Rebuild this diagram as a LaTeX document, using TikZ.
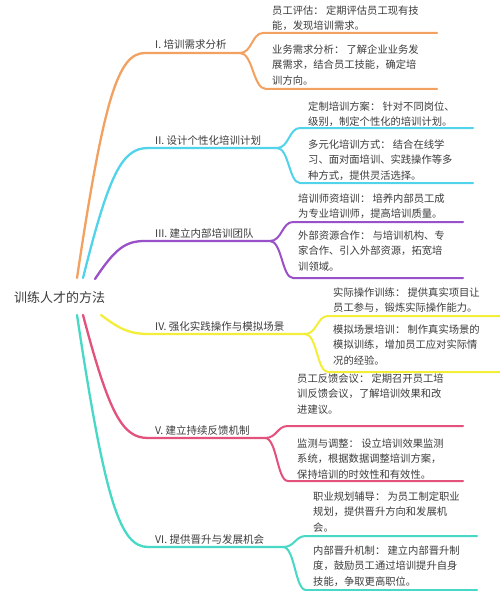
\documentclass[tikz,border=0pt]{standalone}
\usepackage{fontspec}
\setmainfont{Noto Sans CJK SC}
\definecolor{cI}{HTML}{F2A160}
\definecolor{cII}{HTML}{52D3EC}
\definecolor{cIII}{HTML}{9A50C8}
\definecolor{cIV}{HTML}{F3EE3A}
\definecolor{cV}{HTML}{E2527C}
\definecolor{cVI}{HTML}{48D8C6}
\definecolor{txt}{HTML}{3C3C3C}
\tikzset{
  branch/.style={line width=2.3pt, line cap=round},
  twig/.style={line width=2pt, line cap=round},
  lab/.style={anchor=base west, inner sep=0pt, font=\fontsize{10.5}{12}\selectfont, text=txt},
  leaf/.style={anchor=north west, inner sep=0pt, align=left, font=\fontsize{10.3}{15.7}\selectfont, text=txt, yshift=1.8pt},
  rootlab/.style={anchor=base west, inner sep=0pt, font=\fontsize{13}{15}\selectfont, text=txt},
}
\begin{document}
\begin{tikzpicture}[x=1pt,y=-1pt]
\useasboundingbox (0,0) rectangle (500,591);
\fill[white] (0,0) rectangle (500,591);

\node[rootlab] (root) at (14,302) {训练人才的方法};

% ---------- I ----------
\coordinate (rI) at (77,278);
\coordinate (hI) at (145,53);
\coordinate (jI) at (240,53);
\coordinate (aI) at (263,33);  \coordinate (aIe) at (437,33);
\coordinate (bI) at (266,89);  \coordinate (bIe) at (437,89);
\draw[branch,cI] (rI) .. controls (104,98) and (118,53) .. (hI) -- (jI);
\draw[twig,cI] (jI) .. controls (252,53) and (252,33) .. (aI) -- (aIe);
\draw[twig,cI] (jI) .. controls (253,53) and (253,89) .. (bI) -- (bIe);
\node[lab] (lI) at (155,49) {I. 培训需求分析};
\node[leaf] (tI1) at (272,7) {员工评估： 定期评估员工现有技\\能，发现培训需求。};
\node[leaf] (tI2) at (272,46) {业务需求分析： 了解企业业务发\\展需求，结合员工技能，确定培\\训方向。};

% ---------- II ----------
\coordinate (rII) at (83,278);
\coordinate (hII) at (148,148);
\coordinate (jII) at (277,148);
\coordinate (aII) at (300,128);  \coordinate (aIIe) at (473,128);
\coordinate (bII) at (300,183);  \coordinate (bIIe) at (473,183);
\draw[branch,cII] (rII) .. controls (109,174) and (122,148) .. (hII) -- (jII);
\draw[twig,cII] (jII) .. controls (289,148) and (289,128) .. (aII) -- (aIIe);
\draw[twig,cII] (jII) .. controls (289,148) and (289,183) .. (bII) -- (bIIe);
\node[lab] (lII) at (155,144) {II. 设计个性化培训计划};
\node[leaf] (tII1) at (308,103) {定制培训方案： 针对不同岗位、\\级别，制定个性化的培训计划。};
\node[leaf] (tII2) at (308,141) {多元化培训方式： 结合在线学\\习、面对面培训、实践操作等多\\种方式，提供灵活选择。};

% ---------- III ----------
\coordinate (rIII) at (95,279);
\coordinate (hIII) at (145,241);
\coordinate (jIII) at (270,241);
\coordinate (aIII) at (293,222);  \coordinate (aIIIe) at (463,222);
\coordinate (bIII) at (293,278);  \coordinate (bIIIe) at (463,278);
\draw[branch,cIII] (rIII) .. controls (115,249) and (125,241) .. (hIII) -- (jIII);
\draw[twig,cIII] (jIII) .. controls (282,241) and (282,222) .. (aIII) -- (aIIIe);
\draw[twig,cIII] (jIII) .. controls (282,241) and (282,278) .. (bIII) -- (bIIIe);
\node[lab] (lIII) at (155,237) {III. 建立内部培训团队};
\node[leaf] (tIII1) at (298,195) {培训师资培训： 培养内部员工成\\为专业培训师，提高培训质量。};
\node[leaf] (tIII2) at (298,232) {外部资源合作： 与培训机构、专\\家合作、引入外部资源，拓宽培\\训领域。};

% ---------- IV ----------
\coordinate (rIV) at (101,315);
\coordinate (hIV) at (150,334);
\coordinate (jIV) at (305,334);
\coordinate (aIV) at (328,316);  \coordinate (aIVe) at (500,316);
\coordinate (bIV) at (328,372);  \coordinate (bIVe) at (500,372);
\draw[branch,cIV] (rIV) .. controls (121,330) and (130,334) .. (hIV) -- (jIV);
\draw[twig,cIV] (jIV) .. controls (317,334) and (317,316) .. (aIV) -- (aIVe);
\draw[twig,cIV] (jIV) .. controls (317,334) and (317,372) .. (bIV) -- (bIVe);
\node[lab] (lIV) at (155,330) {IV. 强化实践操作与模拟场景};
\node[leaf] (tIV1) at (333,289) {实际操作训练： 提供真实项目让\\员工参与，锻炼实际操作能力。};
\node[leaf] (tIV2) at (333,326) {模拟场景培训： 制作真实场景的\\模拟训练，增加员工应对实际情\\况的经验。};

% ---------- V ----------
\coordinate (rV) at (83,315);
\coordinate (hV) at (148,438);
\coordinate (jV) at (265,438);
\coordinate (aV) at (288,426);  \coordinate (aVe) at (463,426);
\coordinate (bV) at (288,481);  \coordinate (bVe) at (463,481);
\draw[branch,cV] (rV) .. controls (109,413) and (122,438) .. (hV) -- (jV);
\draw[twig,cV] (jV) .. controls (277,438) and (277,426) .. (aV) -- (aVe);
\draw[twig,cV] (jV) .. controls (277,438) and (277,481) .. (bV) -- (bVe);
\node[lab] (lV) at (155,434) {V. 建立持续反馈机制};
\node[leaf] (tV1) at (297,375) {员工反馈会议： 定期召开员工培\\训反馈会议，了解培训效果和改\\进建议。};
\node[leaf] (tV2) at (297,440) {监测与调整： 设立培训效果监测\\系统，根据数据调整培训方案，\\保持培训的时效性和有效性。};

% ---------- VI ----------
\coordinate (rVI) at (77,315);
\coordinate (hVI) at (148,547);
\coordinate (jVI) at (283,547);
\coordinate (aVI) at (306,536);  \coordinate (aVIe) at (477,536);
\coordinate (bVI) at (306,590);  \coordinate (bVIe) at (477,590);
\draw[branch,cVI] (rVI) .. controls (105,501) and (120,547) .. (hVI) -- (jVI);
\draw[twig,cVI] (jVI) .. controls (295,547) and (295,536) .. (aVI) -- (aVIe);
\draw[twig,cVI] (jVI) .. controls (295,547) and (295,590) .. (bVI) -- (bVIe);
\node[lab] (lVI) at (155,543) {VI. 提供晋升与发展机会};
\node[leaf] (tVI1) at (313,493) {职业规划辅导： 为员工制定职业\\规划，提供晋升方向和发展机\\会。};
\node[leaf] (tVI2) at (313,547) {内部晋升机制： 建立内部晋升制\\度，鼓励员工通过培训提升自身\\技能，争取更高职位。};
\end{tikzpicture}
\end{document}
